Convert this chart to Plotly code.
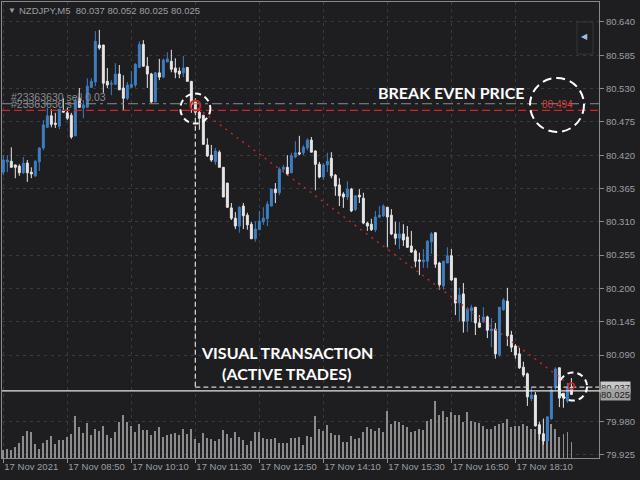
import plotly.graph_objects as go

# ---------------- data ----------------
opens = [80.392,80.409,80.410,80.404,80.402,80.391,80.407,80.392,80.386,80.409,
         80.432,80.466,80.485,80.473,80.468,80.494,80.490,80.486,80.452,80.514,
         80.498,80.499,80.532,80.541,80.602,80.602,80.542,80.537,80.537,80.554,
         80.531,80.514,80.532,80.536,80.565,80.603,80.567,80.554,80.508,80.556,
         80.549,80.574,80.575,80.564,80.559,80.556,80.565,80.542,80.508,80.491,
         80.486,80.437,80.420,80.409,80.425,80.400,80.374,80.333,80.316,80.303,
         80.336,80.321,80.306,80.282,80.297,80.310,80.315,80.336,80.364,80.358,
         80.397,80.400,80.391,80.417,80.424,80.424,80.432,80.445,80.427,80.405,
         80.384,80.404,80.415,80.387,80.371,80.356,80.351,80.364,80.330,80.354,
         80.349,80.308,80.306,80.297,80.318,80.320,80.334,80.321,80.290,80.283,
         80.290,80.285,80.270,80.262,80.247,80.244,80.245,80.277,80.292,80.242,
         80.204,80.242,80.254,80.217,80.176,80.191,80.146,80.163,80.169,80.143,
         80.145,80.153,80.130,80.133,80.090,80.165,80.179,80.123,80.105,80.092,
         80.070,80.059,80.018,80.024,79.975,79.960,79.948,79.985,80.036,80.069,
         80.027,80.014,80.037]
highs = [80.420,80.420,80.433,80.404,80.405,80.417,80.412,80.400,80.412,80.433,
         80.478,80.498,80.496,80.490,80.496,80.514,80.498,80.490,80.514,80.531,
         80.511,80.547,80.547,80.625,80.627,80.602,80.564,80.544,80.572,80.569,
         80.552,80.541,80.559,80.572,80.608,80.610,80.582,80.556,80.557,80.579,
         80.580,80.590,80.594,80.580,80.565,80.584,80.565,80.542,80.514,80.498,
         80.486,80.448,80.437,80.432,80.428,80.400,80.374,80.341,80.326,80.336,
         80.341,80.325,80.310,80.311,80.328,80.334,80.344,80.364,80.374,80.400,
         80.404,80.420,80.424,80.443,80.452,80.437,80.448,80.450,80.428,80.409,
         80.407,80.424,80.425,80.389,80.382,80.359,80.377,80.366,80.354,80.364,
         80.358,80.310,80.315,80.328,80.336,80.339,80.334,80.331,80.310,80.310,
         80.306,80.303,80.295,80.265,80.259,80.265,80.280,80.293,80.293,80.244,
         80.245,80.268,80.265,80.217,80.201,80.209,80.169,80.173,80.169,80.156,
         80.169,80.155,80.151,80.143,80.169,80.184,80.201,80.130,80.108,80.102,
         80.079,80.061,80.037,80.029,79.980,79.985,79.988,80.036,80.070,80.069,
         80.027,80.044,80.052]
lows = [80.387,80.392,80.400,80.382,80.386,80.389,80.376,80.382,80.384,80.394,
        80.428,80.466,80.466,80.465,80.463,80.491,80.478,80.447,80.452,80.498,
        80.481,80.499,80.531,80.534,80.594,80.523,80.531,80.519,80.536,80.528,
        80.494,80.511,80.531,80.532,80.564,80.567,80.531,80.506,80.508,80.544,
        80.547,80.574,80.557,80.547,80.547,80.549,80.542,80.490,80.486,80.462,
        80.437,80.417,80.409,80.404,80.400,80.351,80.333,80.313,80.298,80.292,
        80.298,80.297,80.282,80.277,80.297,80.305,80.303,80.336,80.341,80.354,
        80.391,80.386,80.391,80.415,80.420,80.420,80.428,80.425,80.362,80.382,
        80.379,80.392,80.382,80.353,80.336,80.333,80.346,80.326,80.328,80.341,
        80.306,80.295,80.295,80.293,80.316,80.318,80.268,80.288,80.272,80.265,
        80.270,80.267,80.259,80.235,80.222,80.234,80.234,80.257,80.234,80.198,
        80.198,80.242,80.212,80.156,80.146,80.127,80.128,80.145,80.123,80.135,
        80.143,80.118,80.103,80.084,80.087,80.163,80.105,80.095,80.084,80.067,
        80.054,80.006,80.014,79.972,79.950,79.942,79.948,79.983,80.031,80.004,
        80.003,80.011,80.025]
closes = [80.412,80.412,80.400,80.400,80.391,80.407,80.391,80.389,80.410,80.432,
          80.470,80.485,80.471,80.471,80.496,80.491,80.481,80.450,80.509,80.499,
          80.503,80.534,80.542,80.608,80.597,80.539,80.536,80.539,80.554,80.528,
          80.514,80.536,80.537,80.570,80.603,80.567,80.554,80.508,80.556,80.549,
          80.577,80.579,80.562,80.557,80.554,80.564,80.542,80.504,80.491,80.481,
          80.438,80.419,80.412,80.427,80.400,80.351,80.334,80.316,80.303,80.334,
          80.320,80.305,80.282,80.298,80.311,80.316,80.339,80.364,80.358,80.397,
          80.400,80.389,80.419,80.424,80.422,80.433,80.445,80.425,80.405,80.384,
          80.404,80.410,80.386,80.369,80.353,80.351,80.364,80.328,80.353,80.351,
          80.308,80.303,80.297,80.318,80.321,80.336,80.318,80.290,80.283,80.290,
          80.280,80.268,80.260,80.245,80.245,80.247,80.278,80.290,80.240,80.206,
          80.245,80.254,80.214,80.176,80.189,80.146,80.166,80.168,80.143,80.136,
          80.153,80.131,80.133,80.092,80.169,80.181,80.122,80.103,80.090,80.069,
          80.057,80.021,80.024,79.973,79.960,79.948,79.988,80.032,80.067,80.019,
          80.019,80.036,80.025]
volumes = [8,9,8,11,15,22,27,26,14,9,
           15,18,22,14,18,18,21,24,42,31,
           25,35,23,29,27,32,23,20,26,36,
           43,36,32,26,34,28,28,23,27,31,
           21,23,24,25,23,29,24,29,19,15,
           25,20,19,17,19,28,24,20,26,21,
           18,13,17,26,26,20,19,19,20,15,
           15,15,20,20,21,13,22,21,42,29,
           27,33,25,23,23,16,16,22,19,20,
           26,31,29,27,30,26,47,34,37,36,
           33,31,26,27,29,28,37,39,57,43,
           47,41,46,43,43,36,46,37,36,35,
           32,29,29,32,34,35,39,31,32,32,
           34,32,29,29,26,22,40,34,29,21,
           24,26,16]
bars = list(range(len(closes)))

time_tick_bars = [0, 16, 32, 48, 64, 80, 96, 112, 128]
time_tick_labels = ["17 Nov 2021", "17 Nov 08:50", "17 Nov 10:10", "17 Nov 11:30",
                    "17 Nov 12:50", "17 Nov 14:10", "17 Nov 15:30", "17 Nov 16:50",
                    "17 Nov 18:10"]
price_ticks = [80.640, 80.585, 80.530, 80.475, 80.420, 80.365, 80.310, 80.255,
               80.200, 80.145, 80.090, 79.980, 79.925]

symbol = "NZDJPY,M5"
ticket_label = "#23363630 sell 0.03"
sell_price = 80.505
break_even_price = 80.494
entry_bar = 48
entry_price = 80.502
current_bar = 142
current_price = 80.037
bid_price = 80.025
bid_line_price = 80.031
visual_top_price = 80.482

# ---------------- styling ----------------
BG = "#1e1e21"
GRID = "#3a3a3e"
AXIS = "#8a8a8a"
TXT = "#9a9ea4"
BLUE = "#3f7fc2"
WHITE = "#e6e6e6"
RED = "#d02525"
FONT = "Liberation Sans"

W, H = 640, 480
ML, MR, MT, MB = 2, 41, 2, 22
PW, PH = W - ML - MR, H - MT - MB


def px(x):
    return (x - ML) / PW


def py(y):
    return 1 - (y - MT) / PH


fig = go.Figure()

fig.add_trace(go.Bar(
    x=bars, y=volumes, yaxis="y", xaxis="x",
    marker=dict(color="#8c8c8c", line=dict(width=0)),
    width=0.2, showlegend=False, hoverinfo="skip"))

fig.add_trace(go.Candlestick(
    x=bars, open=opens, high=highs, low=lows, close=closes,
    yaxis="y2", xaxis="x",
    increasing=dict(line=dict(color=BLUE, width=1), fillcolor=BLUE),
    decreasing=dict(line=dict(color=WHITE, width=1), fillcolor=WHITE),
    whiskerwidth=0, showlegend=False, hoverinfo="skip"))

shapes = []
# sell order line (gray dash-dot) and break-even line (red dashed)
shapes.append(dict(type="line", xref="paper", yref="y2", x0=0, x1=1,
                   y0=sell_price, y1=sell_price,
                   line=dict(color="#8c8c8c", width=1, dash="10px,4px,3px,4px")))
shapes.append(dict(type="line", xref="paper", yref="y2", x0=0, x1=1,
                   y0=break_even_price, y1=break_even_price,
                   line=dict(color=RED, width=1.3, dash="8px,4px")))
# visual transaction: vertical + horizontal dashed
shapes.append(dict(type="line", xref="x", yref="y2", x0=entry_bar, x1=entry_bar,
                   y0=visual_top_price, y1=current_price,
                   line=dict(color="#cfcfcf", width=1.3, dash="5px,3px")))
shapes.append(dict(type="line", xref="x", yref="y2", x0=entry_bar, x1=148.9,
                   y0=current_price, y1=current_price,
                   line=dict(color="#cfcfcf", width=1.3, dash="5px,3px")))
# bid line
shapes.append(dict(type="line", xref="paper", yref="y2", x0=0, x1=1.003,
                   y0=bid_line_price, y1=bid_line_price,
                   line=dict(color="#e6e6e6", width=1.3)))
# red dotted trade line
shapes.append(dict(type="line", xref="x", yref="y2", x0=entry_bar + 0.5, x1=current_bar,
                   y0=entry_price - 0.004, y1=current_price + 0.002,
                   line=dict(color=RED, width=1.4, dash="2px,5px")))


def ring(xb, yp, d, color, width, dash="solid"):
    return dict(type="circle", xref="x", yref="y2", xsizemode="pixel", ysizemode="pixel",
                xanchor=xb, yanchor=yp, x0=-d / 2, x1=d / 2, y0=-d / 2, y1=d / 2,
                line=dict(color=color, width=width, dash=dash))


shapes.append(ring(entry_bar, entry_price, 10, RED, 2))
shapes.append(ring(current_bar, current_price + 0.002, 6, RED, 1.5))
shapes.append(ring(entry_bar, 80.497, 30, "#ffffff", 2, "6px,4px"))
shapes.append(ring(138.4, 80.503, 54, "#ffffff", 2, "9px,5px"))
shapes.append(ring(142.4, 80.038, 28, "#ffffff", 2, "6px,4px"))
# small box top right
shapes.append(dict(type="rect", xref="paper", yref="paper", x0=px(577), x1=px(593),
                   y0=py(54), y1=py(22), line=dict(color="#34343a", width=1)))

ann = []
ann.append(dict(x=px(6), y=py(10), xref="paper", yref="paper", xanchor="left", yanchor="middle",
                text="▼", showarrow=False, font=dict(family=FONT, size=8, color=TXT)))
head = "%s  %.3f %.3f %.3f %.3f" % (symbol, opens[-1], highs[-1], lows[-1], closes[-1])
ann.append(dict(x=px(17), y=py(10), xref="paper", yref="paper", xanchor="left", yanchor="middle",
                text=head, showarrow=False, font=dict(family=FONT, size=9.5, color=TXT)))
ann.append(dict(x=px(9), y=py(97), xref="paper", yref="paper", xanchor="left", yanchor="middle",
                text=ticket_label, showarrow=False, font=dict(family=FONT, size=10.5, color="#8a8a8e")))
ann.append(dict(x=px(9), y=py(104), xref="paper", yref="paper", xanchor="left", yanchor="middle",
                text=ticket_label[:11], showarrow=False, font=dict(family=FONT, size=10.5, color="#8a8a8e")))
ann.append(dict(x=px(557), y=py(104), xref="paper", yref="paper", xanchor="center", yanchor="middle",
                text="%.3f" % break_even_price, showarrow=False,
                font=dict(family=FONT, size=10, color="#d83a3a")))
ann.append(dict(x=px(451), y=py(92), xref="paper", yref="paper", xanchor="center", yanchor="middle",
                text="<b>BREAK EVEN PRICE</b>", showarrow=False,
                font=dict(family="Lato", size=16, color="#ffffff")))
ann.append(dict(x=px(287), y=py(352), xref="paper", yref="paper", xanchor="center", yanchor="middle",
                text="<b>VISUAL TRANSACTION</b>", showarrow=False,
                font=dict(family="Lato", size=16, color="#ffffff")))
ann.append(dict(x=px(286), y=py(373), xref="paper", yref="paper", xanchor="center", yanchor="middle",
                text="<b>(ACTIVE TRADES)</b>", showarrow=False,
                font=dict(family="Lato", size=16, color="#ffffff")))
ann.append(dict(x=px(584), y=py(37), xref="paper", yref="paper", xanchor="center", yanchor="middle",
                text="◀", showarrow=False, font=dict(family=FONT, size=8, color="#9cc0e6")))
# price labels on the axis
ann.append(dict(x=px(600), y=current_price, xref="paper", yref="y2", xanchor="left", yanchor="middle",
                text="%.3f" % current_price, showarrow=False, bgcolor="#c8c8c8", borderpad=0,
                font=dict(family=FONT, size=9.5, color="#303030")))
ann.append(dict(x=px(600), y=bid_price, xref="paper", yref="y2", xanchor="left", yanchor="middle",
                text="%.3f" % bid_price, showarrow=False, bgcolor="#a2a2a2", borderpad=0,
                font=dict(family=FONT, size=9.5, color="#202020")))

fig.update_layout(
    width=W, height=H, margin=dict(l=ML, r=MR, t=MT, b=MB, autoexpand=False),
    paper_bgcolor=BG, plot_bgcolor=BG, showlegend=False,
    bargap=0, barmode="overlay",
    shapes=shapes, annotations=ann,
    xaxis=dict(range=[-0.33, 148.9], rangeslider=dict(visible=False),
               tickmode="array", tickvals=time_tick_bars, ticktext=time_tick_labels,
               ticks="outside", ticklen=4, tickcolor=AXIS, tickangle=0, automargin=False,
               ticklabelposition="outside right",
               showgrid=True, gridcolor=GRID, griddash="3px,4px", gridwidth=1,
               showline=True, linecolor=AXIS, linewidth=1, mirror=True,
               zeroline=False, tickfont=dict(family=FONT, size=9.5, color=TXT)),
    yaxis=dict(range=[0, PH], visible=False, showgrid=False, zeroline=False, automargin=False),
    yaxis2=dict(range=[79.920, 80.673], overlaying="y", side="right", automargin=False,
                tickmode="array", tickvals=price_ticks, tickformat=".3f",
                ticks="outside", ticklen=4, tickcolor=AXIS,
                showgrid=True, gridcolor=GRID, griddash="3px,4px", gridwidth=1,
                showline=True, linecolor=AXIS, linewidth=1, mirror=True,
                zeroline=False, tickfont=dict(family=FONT, size=9.5, color=TXT)),
)

fig.write_html("out.html", config={"displayModeBar": False},
               post_script="document.body.style.margin='0';document.body.style.background='%s';" % BG)
